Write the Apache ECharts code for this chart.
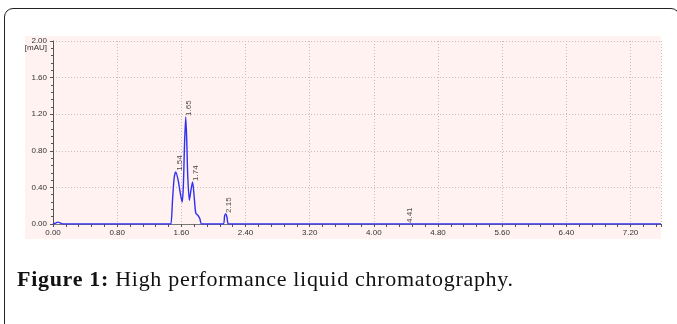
<!DOCTYPE html>
<html>
<head>
<meta charset="utf-8">
<script src="https://cdn.jsdelivr.net/npm/echarts@6/dist/echarts.min.js"></script>
<style>
    html, body { margin: 0; padding: 0; background: #fff; overflow: hidden; }
    #wrap { position: relative; width: 677px; height: 324px; }
    #frame {
        position: absolute; left: 4px; top: 8px; width: 676px; height: 330px;
        border: 1.5px solid #222; border-radius: 9px 9px 0 0; box-sizing: border-box;
    }
    #myChart { position: absolute; left: 0; top: 0; width: 677px; height: 324px; }
    #caption {
        position: absolute; left: 17px; top: 266px; white-space: nowrap;
        font-family: 'Liberation Serif', serif; font-size: 22px; letter-spacing: 0.7px; color: #111;
    }
    #caption b { font-weight: bold; }
</style>
</head>
<body>
<div id="wrap">
    <div id="frame"></div>
    <div id="myChart"></div>
    <div id="caption"><b>Figure 1:</b> High performance liquid chromatography.</div>
</div>
<script>
// retention time (min) and detector signal (mAU)
var timeMin = [0, 0.03, 0.06, 0.09, 0.13, 1.45, 1.47, 1.49, 1.51, 1.53, 1.56, 1.59, 1.61, 1.625, 1.64, 1.655,
    1.667, 1.68, 1.70, 1.72, 1.74, 1.76, 1.78, 1.81, 1.83, 1.855, 2.12, 2.14, 2.155, 2.17, 2.19, 7.58];
var signal = [0, 0.01, 0.02, 0.012, 0, 0, 0, 0.26, 0.50, 0.57, 0.48, 0.32, 0.24, 0.41, 0.88, 1.17,
    0.92, 0.52, 0.26, 0.37, 0.46, 0.30, 0.12, 0.09, 0.06, 0, 0, 0.09, 0.11, 0.07, 0, 0];

// peak annotations
var peakTimes = [1.54, 1.65, 1.74, 2.15, 4.41];
var peakHeights = [0.57, 1.17, 0.46, 0.11, 0];
var peakNames = ['1.54', '1.65', '1.74', '2.15', '4.41'];

var xMax = 7.58;
var yMax = 2.0;

var trace = timeMin.map(function (t, i) { return [t, signal[i]]; });
var peaks = peakTimes.map(function (t, i) { return { value: [t, peakHeights[i]], name: peakNames[i] }; });

var myChart = echarts.init(document.querySelector('#myChart'));

var axisFont = { fontFamily: 'Liberation Sans', fontSize: 8, color: '#333' };

option = {
    backgroundColor: 'transparent',
    animation: false,
    graphic: [{
        type: 'rect',
        z: -10,
        silent: true,
        shape: { x: 25, y: 36, width: 636, height: 203 },
        style: { fill: '#fff2f1' }
    }],
    grid: { left: 53, right: 16, top: 41, bottom: 100 },
    xAxis: {
        type: 'value',
        min: 0,
        max: xMax,
        interval: 0.8,
        axisLine: { onZero: false, lineStyle: { color: '#777', width: 1 } },
        axisTick: { show: true, length: 3, lineStyle: { color: '#555' } },
        minorTick: { show: true, splitNumber: 5, length: 3, lineStyle: { color: '#555' } },
        axisLabel: Object.assign({ margin: 5, showMaxLabel: false,
            formatter: function (v) { return v.toFixed(2); } }, axisFont),
        splitLine: { show: true, lineStyle: { color: '#c4bebe', type: [1, 2] } }
    },
    yAxis: {
        type: 'value',
        min: 0,
        max: yMax,
        interval: 0.4,
        axisLine: { show: true, lineStyle: { color: '#555', width: 1 } },
        axisTick: { show: true, length: 3, lineStyle: { color: '#555' } },
        minorTick: { show: true, splitNumber: 5, length: 2, lineStyle: { color: '#555' } },
        axisLabel: Object.assign({ margin: 6,
            formatter: function (v) {
                // unit sits under the top tick value
                if (v === yMax) return '{s| }\n{t|' + v.toFixed(2) + '}\n{t|[mAU]}';
                return v.toFixed(2);
            },
            rich: {
                s: { fontSize: 8, lineHeight: 7 },
                t: { fontFamily: 'Liberation Sans', fontSize: 8, color: '#333', lineHeight: 7, align: 'right' }
            } }, axisFont),
        splitLine: { show: true, lineStyle: { color: '#c4bebe', type: [1, 2] } }
    },
    series: [{
        name: 'signal',
        type: 'line',
        data: trace,
        showSymbol: false,
        smooth: 0.25,
        lineStyle: { color: '#3030f2', width: 1.4 },
        z: 3
    }, {
        name: 'peaks',
        type: 'scatter',
        data: peaks,
        symbolSize: 0,
        silent: true,
        label: {
            show: true,
            formatter: '{b}',
            position: 'top',
            distance: 1,
            rotate: 90,
            align: 'left',
            verticalAlign: 'middle',
            offset: [0, 3],
            fontFamily: 'Liberation Sans',
            fontSize: 8,
            color: '#222'
        },
        z: 4
    }]
};

myChart.setOption(option);
</script>
</body>
</html>
